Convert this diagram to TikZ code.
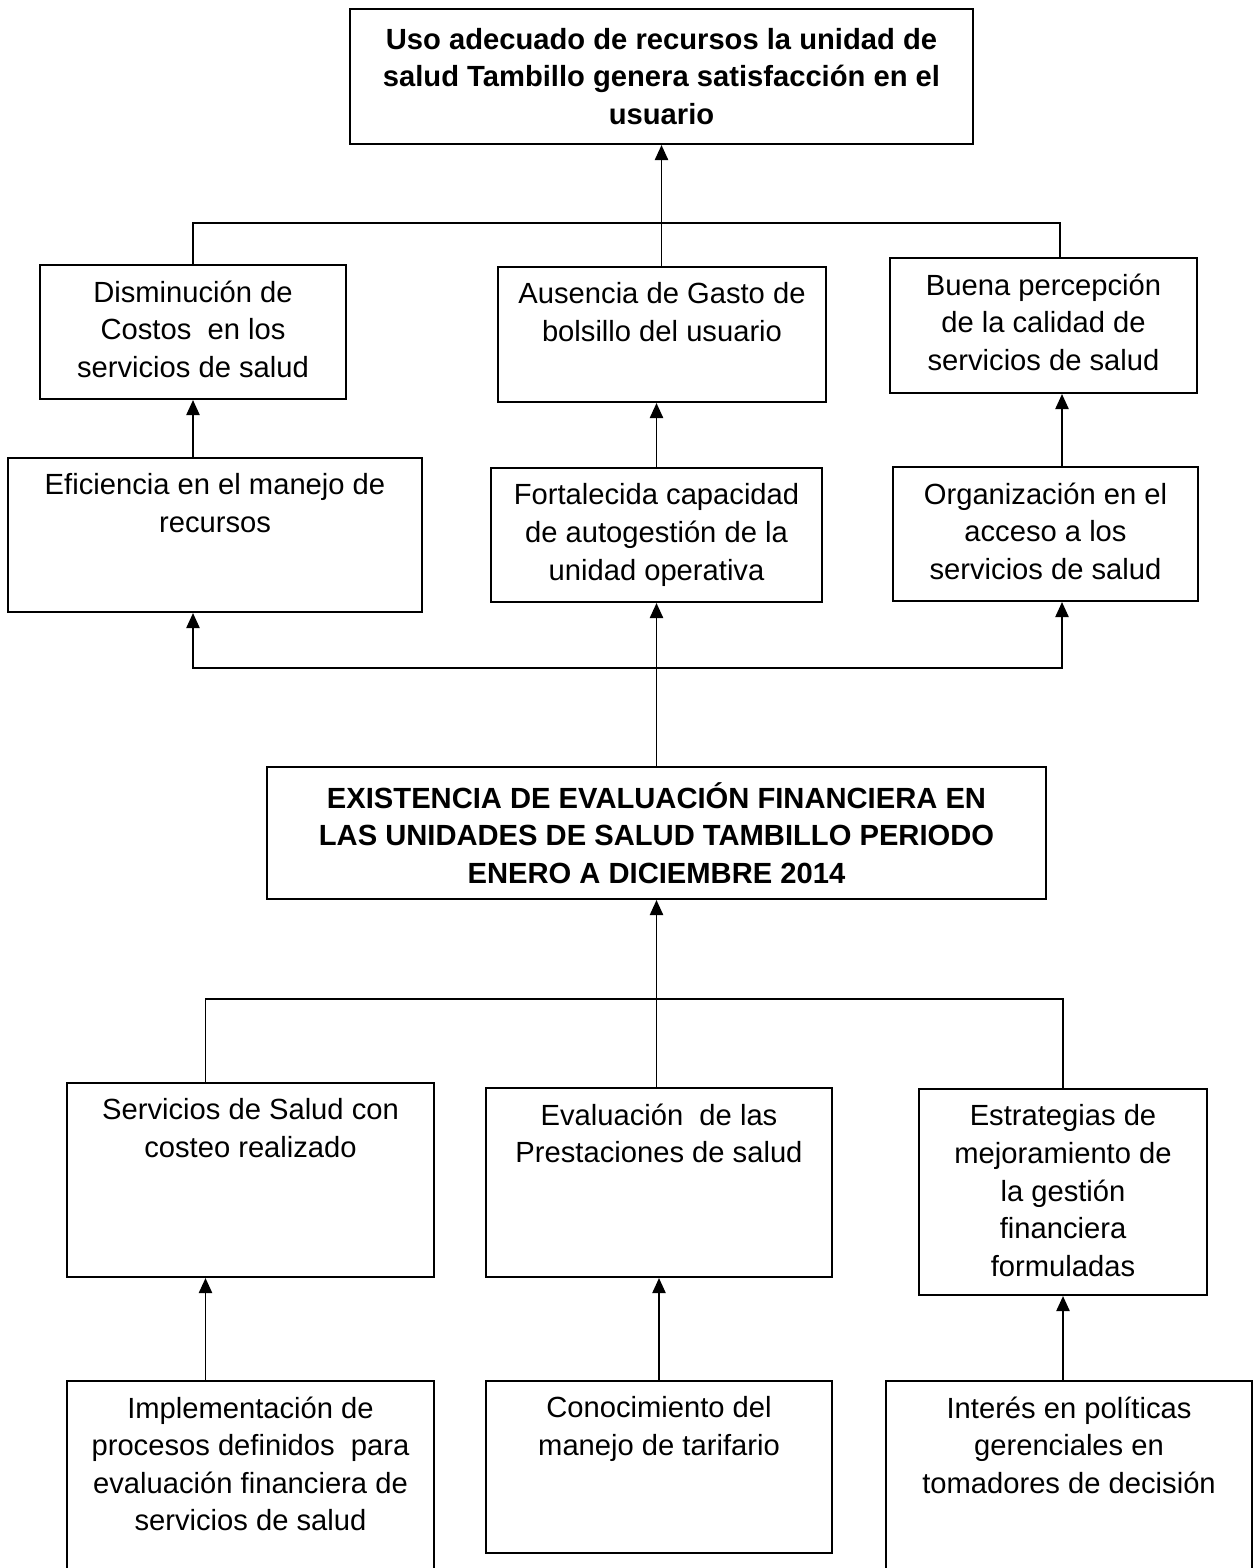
\documentclass[tikz,border=0pt]{standalone}
\usepackage{fontspec}
\setmainfont{Liberation Sans}
\usepackage{tikz}
\usetikzlibrary{arrows.meta,positioning}
\tikzstyle{arrow} = [line width=0.45pt,-{Triangle[length=4.3pt,width=3.8pt]}]
\tikzstyle{branch} = [line width=0.45pt]
\tikzstyle{cell} = [rectangle, draw, line width=0.6pt, inner sep=0pt]
\tikzstyle{celltext} = [align=center, inner sep=0pt, font=\fontsize{8.3}{10.7}\selectfont]
\tikzstyle{headcell} = [cell, align=center, font=\fontsize{8.3}{10.7}\selectfont\bfseries]

\begin{document}
\begin{tikzpicture}
    \useasboundingbox (0,0) rectangle (12.54,-15.68);
    \clip (0,0) rectangle (12.54,-15.68);

    % Goal
    \node[headcell, minimum width=6.23cm, minimum height=1.35cm] (uso) at (6.615,-0.765) {Uso adecuado de recursos la unidad de\\salud Tambillo genera satisfacción en el\\usuario};

    % Effects
    \node[cell, minimum width=3.06cm, minimum height=1.34cm] (dism) at (1.93,-3.32) {};
    \node[cell, minimum width=3.28cm, minimum height=1.35cm] (aus) at (6.62,-3.345) {};
    \node[cell, minimum width=3.07cm, minimum height=1.35cm] (buena) at (10.435,-3.255) {};
    \node[celltext, below=0.16cm of dism.north] (dismtext) {Disminución de\\Costos~ en los\\servicios de salud};
    \node[celltext, below=0.16cm of aus.north] (austext) {Ausencia de Gasto de\\bolsillo del usuario};
    \node[celltext, below=0.16cm of buena.north] (buenatext) {Buena percepción\\de la calidad de\\servicios de salud};

    \node[cell, minimum width=4.14cm, minimum height=1.54cm] (efi) at (2.15,-5.35) {};
    \node[cell, minimum width=3.31cm, minimum height=1.34cm] (fort) at (6.565,-5.35) {};
    \node[cell, minimum width=3.05cm, minimum height=1.34cm] (org) at (10.455,-5.34) {};
    \node[celltext, below=0.16cm of efi.north] (efitext) {Eficiencia en el manejo de\\recursos};
    \node[celltext, below=0.16cm of fort.north] (forttext) {Fortalecida capacidad\\de autogestión de la\\unidad operativa};
    \node[celltext, below=0.16cm of org.north] (orgtext) {Organización en el\\acceso a los\\servicios de salud};

    % Central problem
    \node[headcell, minimum width=7.79cm, minimum height=1.32cm] (central) at (6.565,-8.33) {EXISTENCIA DE EVALUACIÓN FINANCIERA EN\\LAS UNIDADES DE SALUD TAMBILLO PERIODO\\ENERO A DICIEMBRE 2014};

    % Means
    \node[cell, minimum width=3.67cm, minimum height=1.94cm] (serv) at (2.505,-11.80) {};
    \node[cell, minimum width=3.46cm, minimum height=1.89cm] (eval) at (6.59,-11.825) {};
    \node[cell, minimum width=2.88cm, minimum height=2.06cm] (estr) at (10.63,-11.92) {};
    \node[celltext, below=0.16cm of serv.north] (servtext) {Servicios de Salud con\\costeo realizado};
    \node[celltext, below=0.16cm of eval.north] (evaltext) {Evaluación~ de las\\Prestaciones de salud};
    \node[celltext, below=0.16cm of estr.north] (estrtext) {Estrategias de\\mejoramiento de\\la gestión\\financiera\\formuladas};

    \node[cell, minimum width=3.67cm, minimum height=2.19cm] (impl) at (2.505,-14.905) {};
    \node[cell, minimum width=3.46cm, minimum height=1.72cm] (conoc) at (6.59,-14.67) {};
    \node[cell, minimum width=3.66cm, minimum height=2.19cm] (inter) at (10.69,-14.905) {};
    \node[celltext, below=0.16cm of impl.north] (impltext) {Implementación de\\procesos definidos~ para\\evaluación financiera de\\servicios de salud};
    \node[celltext, below=0.16cm of conoc.north] (conoctext) {Conocimiento del\\manejo de tarifario};
    \node[celltext, below=0.16cm of inter.north] (intertext) {Interés en políticas\\gerenciales en\\tomadores de decisión};

    % Junctions
    \coordinate (topbar) at (6.615,-2.23);
    \coordinate (midbar) at (6.565,-6.68);
    \coordinate (lowbar) at (6.565,-9.99);

    % Connections above
    \draw[branch] (dism.north) |- (topbar) -| ([xshift=1.65mm]buena.north);
    \draw[arrow] (aus.north -| uso.south) -- (uso.south);
    \draw[arrow] (dism.south |- efi.north) -- (dism.south);
    \draw[arrow] (fort.north) -- (fort.north |- aus.south);
    \draw[arrow] ([xshift=1.65mm]org.north) -- ([xshift=1.65mm]org.north |- buena.south);
    \draw[arrow] (midbar) -| (dism.south |- efi.south);
    \draw[arrow] (midbar) -| ([xshift=1.65mm]org.south);
    \draw[arrow] (central.north) -- (fort.south);

    % Connections below
    \draw[arrow] (eval.north -| central.south) -- (central.south);
    \draw[branch] ([xshift=-4.5mm]serv.north) |- (lowbar) -| (estr.north);
    \draw[arrow] ([xshift=-4.5mm]impl.north) -- ([xshift=-4.5mm]serv.south);
    \draw[arrow] (conoc.north) -- (eval.south);
    \draw[arrow] (inter.north -| estr.south) -- (estr.south);
\end{tikzpicture}
\end{document}
